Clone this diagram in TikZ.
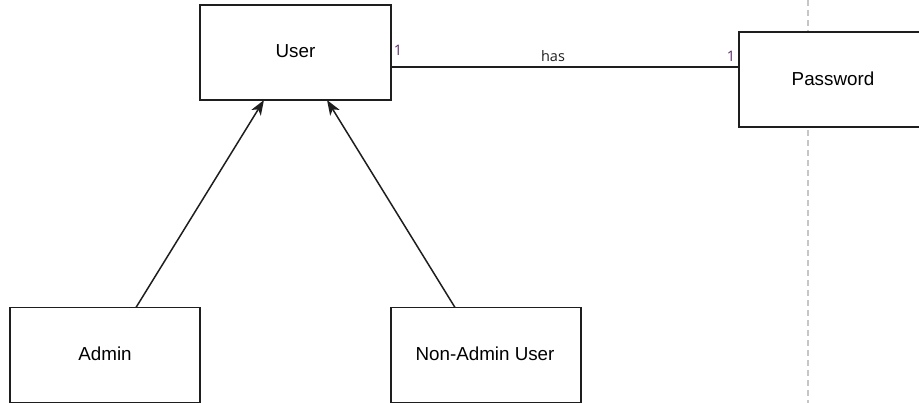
\documentclass[tikz,border=0pt]{standalone}
\usepackage{fontspec}
\setmainfont{Liberation Sans}
\newfontfamily\lblfont{Open Sans}
\usetikzlibrary{arrows.meta}
\definecolor{ln}{HTML}{1E1E1E}
\definecolor{mult}{HTML}{5A2E66}
\begin{document}
\begin{tikzpicture}[x=1pt,y=1pt,
  cls/.style={draw=ln,line width=1.5pt,fill=white,minimum width=191pt,minimum height=95pt,inner sep=0pt},
  txt/.style={font=\fontsize{18.8}{21}\selectfont,text=black,inner sep=0pt},
  inh/.style={draw=ln,line width=1.5pt,-{Stealth[length=15pt,width=11pt,inset=4pt]}},
  lbl/.style={font=\lblfont\fontsize{14.5}{16}\selectfont,text=ln,inner sep=0pt}]
\useasboundingbox (0,0) rectangle (919,-403);
\clip (0,0) rectangle (919,-403);
\draw[draw=gray!45,line width=1.2pt,dash pattern=on 6pt off 4pt] (808,0) -- (808,-403);
\node[cls] (user) at (295.5,-52.5) {};
\node[txt] (usert) at (295.5,-51.5) {User};
\node[cls,minimum width=200pt] (pwd) at (839,-79.5) {};
\node[txt] (pwdt) at (833,-78.5) {Password};
\node[cls,minimum width=190pt] (admin) at (105,-355) {};
\node[txt] (admint) at (105,-354) {Admin};
\node[cls,minimum width=190pt] (nonadmin) at (486,-355) {};
\node[txt] (nonadmint) at (485,-354) {Non-Admin User};
\coordinate (ua) at (264,-100);
\coordinate (un) at (327,-100);
\coordinate (as) at (136,-307.5);
\coordinate (ns) at (455,-307.5);
\draw[draw=ln,line width=1.5pt] (user.east |- 0,-67) -- (pwd.west |- 0,-67);
\node[lbl,text=mult] (m1) at (398,-50) {1};
\node[lbl] (has) at (553,-56.5) {has};
\node[lbl,text=mult] (m2) at (731,-56) {1};
\draw[inh] (as) -- (ua);
\draw[inh] (ns) -- (un);
\end{tikzpicture}
\end{document}
